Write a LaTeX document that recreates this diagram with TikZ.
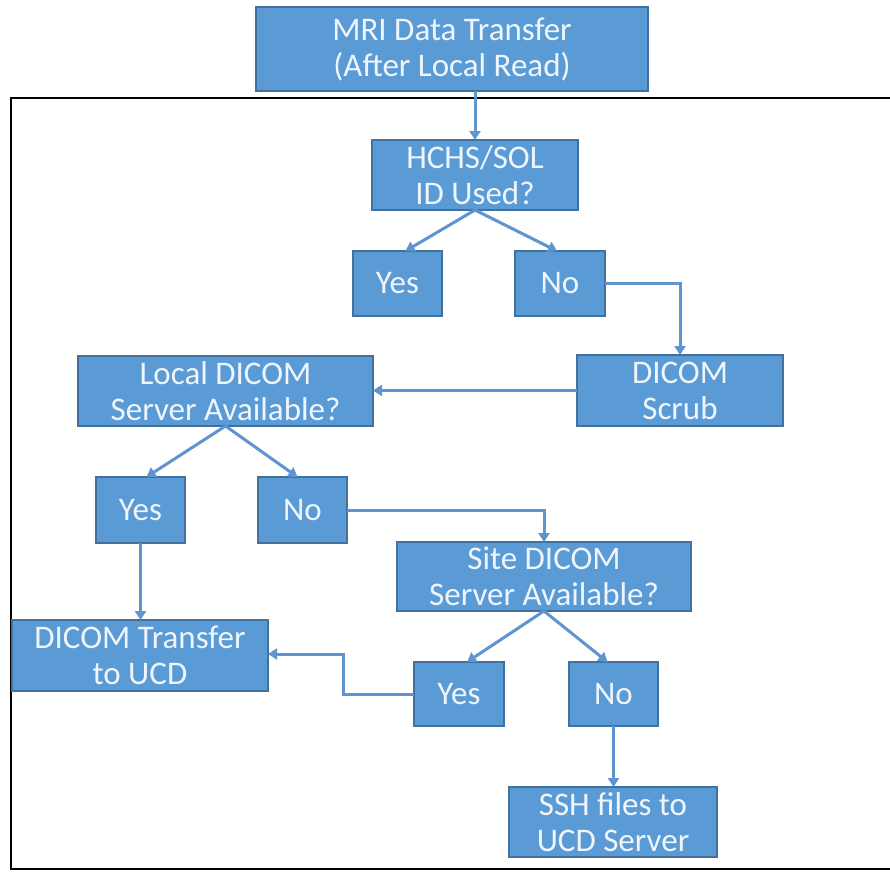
\documentclass[tikz,border=0pt]{standalone}
\usepackage{fontspec}
\setmainfont{Carlito}
\usetikzlibrary{arrows.meta}
\definecolor{boxblue}{HTML}{5B9BD5}
\definecolor{boxedge}{HTML}{41719C}
\definecolor{linkblue}{HTML}{5E94CF}
\definecolor{boxtext}{HTML}{EEF5FC}

\begin{document}
\begin{tikzpicture}[x=1pt, y=-1pt,
    box/.style={rectangle, draw=boxedge, line width=1.2pt, fill=boxblue, text=boxtext,
      align=center, inner sep=0pt, outer sep=0pt, font=\fontsize{33}{36}\selectfont},
    link/.style={draw=linkblue, line width=3pt, -{Triangle[length=9pt, width=11pt]}}]
    \useasboundingbox (0, 0) rectangle (890, 873);

    % outer frame
    \draw[line width=2.2pt] (895, 98) -- (11, 98) -- (11, 869) -- (895, 869);

    \node[box, minimum width=392, minimum height=84] (mri) at (452, 49) {MRI Data Transfer\\(After Local Read)};
    \node[box, minimum width=206, minimum height=70] (hchs) at (475, 175) {HCHS/SOL\\ID Used?};
    \node[box, minimum width=89, minimum height=65] (yesA) at (397.5, 283.5) {Yes};
    \node[box, minimum width=90, minimum height=65] (noA) at (560, 283.5) {No};
    \node[box, minimum width=206, minimum height=71] (scrub) at (680, 390.5) {DICOM\\Scrub};
    \node[box, minimum width=295, minimum height=70] (localsrv) at (225.5, 391) {Local DICOM\\Server Available?};
    \node[box, minimum width=89, minimum height=66] (yesB) at (140.5, 510) {Yes};
    \node[box, minimum width=89, minimum height=66] (noB) at (302.5, 510) {No};
    \node[box, minimum width=294, minimum height=69] (sitesrv) at (544, 576.5) {Site DICOM\\Server Available?};
    \node[box, minimum width=256, minimum height=71] (xfer) at (140, 655.5) {DICOM Transfer\\to UCD};
    \node[box, minimum width=90, minimum height=64] (yesC) at (459, 694) {Yes};
    \node[box, minimum width=89, minimum height=64] (noC) at (613.5, 694) {No};
    \node[box, minimum width=208, minimum height=70] (ssh) at (613, 822) {SSH files to\\UCD Server};

    \draw[link] (hchs.north |- mri.south) -- (hchs.north);
    \draw[link] (hchs.south) -- ([xshift=8]yesA.north);
    \draw[link] (hchs.south) -- ([xshift=-3]noA.north);
    \draw[link] (noA.east) -| (scrub.north);
    \draw[link] (scrub.west) -- (localsrv.east |- scrub.west);
    \draw[link] (localsrv.south) -- ([xshift=6]yesB.north);
    \draw[link] (localsrv.south) -- ([xshift=-5]noB.north);
    \draw[link] (noB.east) -| (sitesrv.north);
    \draw[link] (yesB.south) -- (yesB.south |- xfer.north);
    \draw[link] (sitesrv.south) -- ([xshift=8]yesC.north);
    \draw[link] (sitesrv.south) -- ([xshift=-6]noC.north);
    \draw[link] (yesC.west) -- ++(-71, 0) |- ([yshift=1.5]xfer.east);
    \draw[link] (noC.south) -- (noC.south |- ssh.north);

  \end{tikzpicture}
\end{document}
